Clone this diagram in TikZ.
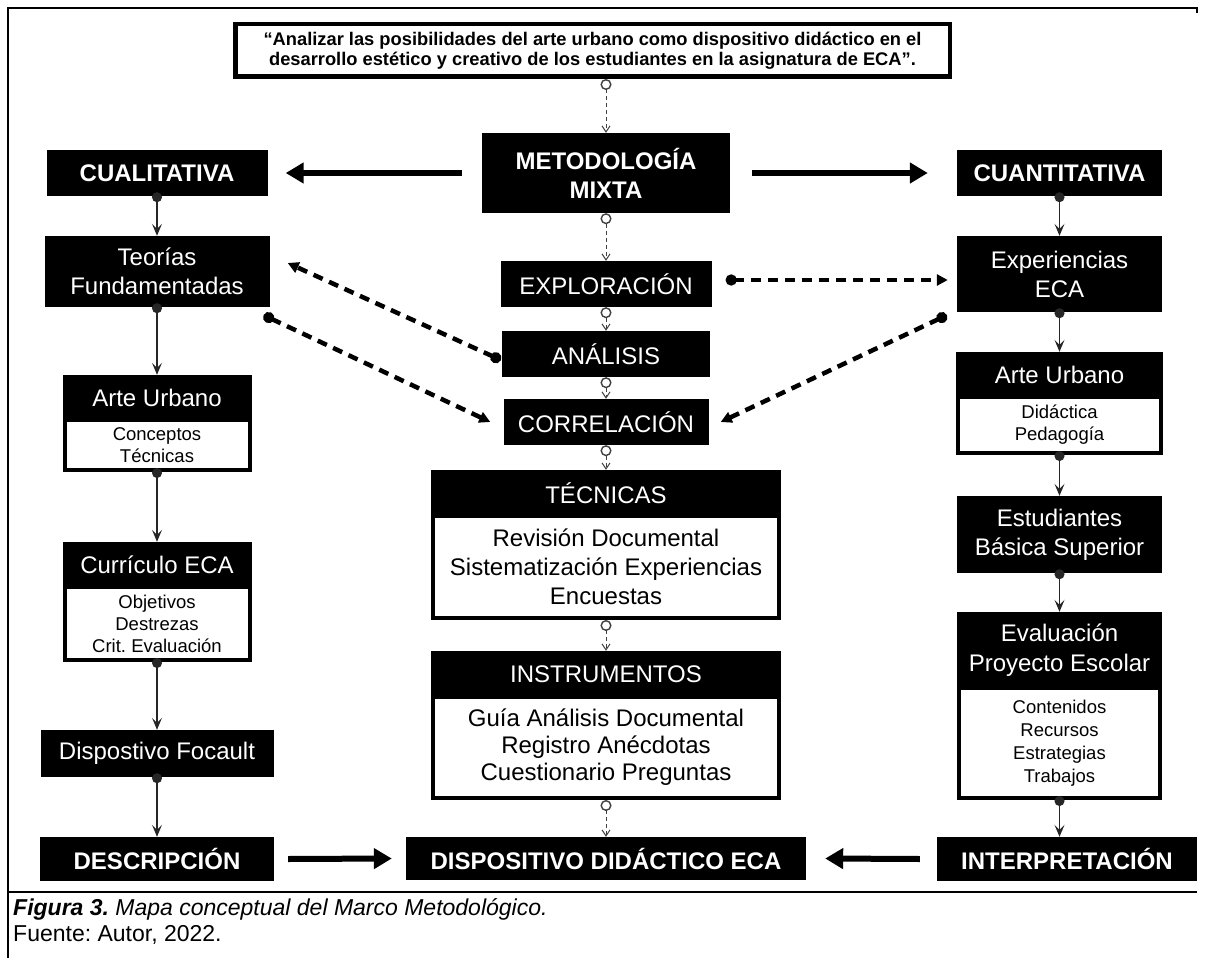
\documentclass[tikz,border=0pt]{standalone}
\usepackage{fontspec}
\setmainfont{Liberation Sans}
\usetikzlibrary{arrows.meta,calc}
\frenchspacing
\begin{document}
\begin{tikzpicture}[x=1pt,y=-1pt,
  blk/.style={fill=black,text=white,inner sep=0pt,align=center,font=\fontsize{24}{29}\selectfont},
  blkb/.style={blk,font=\fontsize{24}{29}\selectfont\bfseries},
  bodys/.style={draw=black,line width=4pt,fill=white,inner sep=0pt,align=center,font=\fontsize{18.5}{22}\selectfont},
  bodyl/.style={draw=black,line width=4pt,fill=white,inner sep=0pt,align=center,font=\fontsize{24}{29}\selectfont},
  goalbox/.style={draw=black,line width=4.5pt,fill=white,inner sep=0pt,align=center,font=\fontsize{18.3}{20.5}\selectfont\bfseries},
  dlink/.style={draw=black!75,line width=1pt,dash pattern=on 4pt off 3pt,
    arrows={Circle[open,fill=white,length=11pt,width=11pt,line width=1.4pt]-Straight Barb[length=6pt,width=8pt]}},
  slink/.style={draw=black!85,line width=1.3pt,shorten <=-4pt,
    arrows={Circle[length=10pt,width=10pt]-Stealth[length=12pt,width=10pt,inset=5pt]}},
  bigarrow/.style={draw=black,line width=6pt,-{Triangle[length=18pt,width=20pt]}},
  tdash/.style={draw=black,line width=4.5pt,dash pattern=on 10pt off 7pt,
    arrows={Circle[length=11pt,width=11pt]-Triangle[length=11pt,width=11pt]}},
  capt/.style={anchor=west,inner sep=0pt,font=\fontsize{23}{26}\selectfont}
]
\useasboundingbox (0,0) rectangle (1205,958);
% frame
\draw[line width=2pt] (8,958) -- (8,8) -- (1197,8) -- (1197,13);
\draw[line width=2pt] (8,892) -- (1197,892);

% goal
\node[goalbox,minimum width=714.5,minimum height=52.5] (goal) at (592.5,50.5)
  {“Analizar las posibilidades del arte urbano como dispositivo didáctico en el\\desarrollo estético y creativo de los estudiantes en la asignatura de ECA”.};

% left column
\node[blkb,minimum width=221,minimum height=46] (cual) at (157,173) {CUALITATIVA};
\node[blk,minimum width=225,minimum height=71] (teor) at (157,271.5) {Teorías\\Fundamentadas};
\node[bodys,minimum width=185,minimum height=50] (artLB) at (157,445) {Conceptos\\Técnicas};
\node[blk,minimum width=189,minimum height=45] (artLH) at (157,397.5) {Arte Urbano};
\node[bodys,minimum width=185,minimum height=73] (currB) at (157,623.5) {Objetivos\\Destrezas\\Crit. Evaluación};
\node[blk,minimum width=189,minimum height=45] (currH) at (157,564.5) {Currículo ECA};
\node[blk,minimum width=233,minimum height=47] (disp) at (157,753.5) {Dispostivo Focault};
\node[blkb,minimum width=234,minimum height=44] (desc) at (157,859) {DESCRIPCIÓN};

% centre column
\node[blkb,minimum width=248,minimum height=80] (meto) at (606,173) {METODOLOGÍA\\MIXTA};
\node[blk,minimum width=211,minimum height=46] (expl) at (606,284) {EXPLORACIÓN};
\node[blk,minimum width=208,minimum height=46] (anal) at (606,354) {ANÁLISIS};
\node[blk,minimum width=205,minimum height=46] (corr) at (606,422) {CORRELACIÓN};
\node[bodyl,minimum width=346,minimum height=102] (tecB) at (606,567) {Revisión Documental\\Sistematización Experiencias\\Encuestas};
\node[blk,minimum width=350,minimum height=46] (tecH) at (606,493) {TÉCNICAS};
\node[bodyl,minimum width=346,minimum height=101,font=\fontsize{24}{27}\selectfont] (insB) at (606,747.5) {Guía Análisis Documental\\Registro Anécdotas\\Cuestionario Preguntas};
\node[blk,minimum width=350,minimum height=46] (insH) at (606,674) {INSTRUMENTOS};
\node[blkb,minimum width=400,minimum height=43] (dida) at (606,858.5) {DISPOSITIVO DIDÁCTICO ECA};

% right column
\node[blkb,minimum width=205,minimum height=46] (cuan) at (1059.5,173) {CUANTITATIVA};
\node[blk,minimum width=205,minimum height=76] (expe) at (1059.5,274) {Experiencias\\ECA};
\node[bodys,minimum width=203,minimum height=56] (artRB) at (1059.5,425) {Didáctica\\Pedagogía};
\node[blk,minimum width=207,minimum height=45] (artRH) at (1059.5,374.5) {Arte Urbano};
\node[blk,minimum width=205,minimum height=77] (estu) at (1059.5,534.5) {Estudiantes\\Básica Superior};
\node[bodys,minimum width=201,minimum height=110,font=\fontsize{18.5}{23}\selectfont] (evalB) at (1059.5,743) {Contenidos\\Recursos\\Estrategias\\Trabajos};
\node[blk,minimum width=205,minimum height=76,font=\fontsize{24}{30}\selectfont] (evalH) at (1059.5,650) {Evaluación\\Proyecto Escolar};
\node[blkb,minimum width=260,minimum height=44] (inte) at (1067,859) {INTERPRETACIÓN};

% centre dashed links
\draw[dlink] (goal.south -| meto.north) -- (meto.north);
\draw[dlink] (meto.south) -- (expl.north);
\draw[dlink] (expl.south) -- (anal.north);
\draw[dlink] (anal.south) -- (corr.north);
\draw[dlink] (corr.south) -- (tecH.north);
\draw[dlink] (tecB.south) -- (insH.north);
\draw[dlink] (insB.south) -- (dida.north);

% left links
\draw[slink] (cual.south) -- (teor.north);
\draw[slink] (teor.south) -- (artLH.north);
\draw[slink] (artLB.south) -- (currH.north);
\draw[slink] (currB.south) -- (disp.north);
\draw[slink] (disp.south) -- (desc.north);

% right links
\draw[slink] (cuan.south) -- (expe.north);
\draw[slink] (expe.south) -- (artRH.north);
\draw[slink] (artRB.south) -- (estu.north);
\draw[slink] (estu.south) -- (evalH.north);
\draw[slink] (evalB.south) -- (evalB.south |- inte.north);

% thick arrows
\draw[bigarrow] ($(meto.west)+(-20,0)$) -- ($(cual.east)+(18,0)$);
\draw[bigarrow] ($(meto.east)+(22,0)$) -- ($(cuan.west)+(-29,0)$);
\draw[bigarrow] ($(desc.east)+(14,0)$) -- ($(dida.west)+(-14,0)$);
\draw[bigarrow] ($(inte.west)+(-17,0)$) -- ($(dida.east)+(19,0)$);

% thick dashed links
\draw[tdash] ($(anal.west)+(-1,6)$) -- ($(teor.east)+(18,-8.5)$);
\draw[tdash] ($(teor.south east)+(-6,8)$) -- ($(corr.west)+(-13,0)$);
\draw[tdash] ($(expl.east)+(14,-4)$) -- ($(expe.west)+(-9,6)$);
\draw[tdash] ($(expe.south west)+(-10,3)$) -- ($(corr.east)+(12,0)$);

% caption
\node[capt] (cap1) at (13,909) {\textbf{\textit{Figura 3.}} \textit{Mapa conceptual del Marco Metodológico.}};
\node[capt] (cap2) at (13,935) {Fuente: Autor, 2022.};
\end{tikzpicture}
\end{document}
